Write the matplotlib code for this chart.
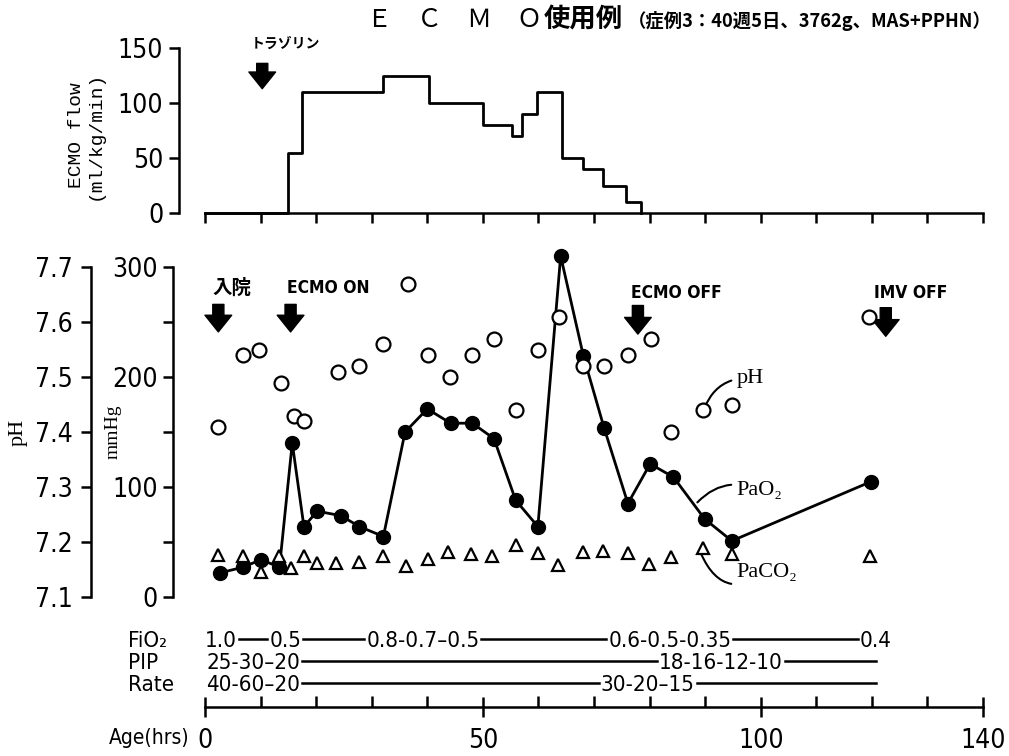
import matplotlib.pyplot as plt
from matplotlib import font_manager as fm
from matplotlib.ticker import MultipleLocator

# ecmo flow (step changes), hours / ml/kg/min
flow_hours = [0, 14.9, 17.5, 32.0, 40.3, 50.0, 55.3, 57.0, 59.8, 64.3, 68.1, 71.6, 75.8, 78.5]
flow = [0, 55, 110, 125, 100, 80, 70, 90, 110, 50, 40, 25, 10, 0]

# pH (open circles)
ph_hours = [2.4, 6.9, 9.8, 13.7, 16.0, 17.8, 23.9, 27.8, 32.1, 36.5, 40.2, 44.0, 48.1,
            52.0, 55.9, 59.9, 63.7, 68.1, 71.8, 76.1, 80.2, 83.9, 89.7, 94.9, 119.5]
ph = [7.41, 7.54, 7.55, 7.49, 7.43, 7.42, 7.51, 7.52, 7.56, 7.67, 7.54, 7.50, 7.54,
      7.57, 7.44, 7.55, 7.61, 7.52, 7.52, 7.54, 7.57, 7.40, 7.44, 7.45, 7.61]

# PaO2 (filled circles + line)
pao2_hours = [2.7, 6.8, 10.1, 13.4, 15.7, 17.8, 20.2, 24.4, 27.8, 32.1, 36.0, 40.0, 44.2,
              48.1, 52.0, 55.9, 59.9, 64.0, 68.1, 71.8, 76.1, 80.1, 84.3, 89.9, 94.8, 119.9]
pao2 = [22, 27, 34, 27, 140, 64, 78, 74, 64, 55, 150, 171, 158,
        158, 144, 88, 64, 310, 219, 154, 85, 121, 109, 71, 51, 105]

# PaCO2 (open triangles)
paco2_hours = [2.4, 6.9, 10.1, 13.3, 15.5, 17.8, 20.1, 23.5, 27.7, 32.1, 36.2, 40.1, 43.8,
               47.9, 51.7, 55.9, 59.9, 63.5, 68.0, 71.7, 76.1, 79.9, 83.9, 89.7, 94.8, 119.6]
paco2 = [38, 37, 23, 37, 26, 37, 31, 31, 32, 37, 28, 35, 41,
         39, 37, 47, 40, 29, 41, 42, 40, 30, 36, 45, 39, 37]

# ventilator settings rows: (start hour, text)
fio2_row = [(0, '1.0'), (11.6, '0.5'), (29.0, '0.8-0.7–0.5'), (72.6, '0.6-0.5-0.35'), (117.8, '0.4')]
pip_row = [(0.2, '25-30–20'), (81.7, '18-16-12-10')]
rate_row = [(0.2, '40-60–20'), (71.2, '30-20–15')]
row_end = 120.8

# fonts: look for a condensed sans face for the narrow figures of the original
entries = fm.fontManager.ttflist
cond_fams = {f.name for f in entries if 'condensed' in str(f.stretch) or 'Narrow' in f.name}
narrow = None
for cand in ['Liberation Sans Narrow', 'DejaVu Sans', 'Noto Sans', 'Open Sans', 'Roboto']:
    if cand in cond_fams:
        narrow = cand
        break
if narrow:
    NF = [narrow, 'DejaVu Sans']
    plt.rcParams['font.stretch'] = 'condensed'
    k = 1.0
else:
    NF = ['DejaVu Sans']
    k = 0.85
CJK = ['Noto Sans CJK JP', 'DejaVu Sans']
SERIF = ['Liberation Serif', 'DejaVu Serif']
MONO = ['Liberation Mono', 'DejaVu Sans Mono']

plt.rcParams['font.family'] = NF
plt.rcParams['axes.linewidth'] = 1.8

W, H = 1009, 756
def box(l, t, r, b):
    return [l / W, 1 - b / H, (r - l) / W, (b - t) / H]

fig = plt.figure(figsize=(W / 100, H / 100), dpi=100)

def down_arrow(a, x, y0, y1):
    a.annotate('', xy=(x, y1), xytext=(x, y0), annotation_clip=False,
               arrowprops=dict(arrowstyle='simple,head_length=0.75,head_width=1.2,tail_width=0.5',
                               fc='black', ec='black', mutation_scale=16, shrinkA=0, shrinkB=0))

#flow panel
axf = fig.add_axes(box(205, 48, 983, 213))
axf.step(flow_hours, flow, where='post', color='black', lw=2, clip_on=False)
axf.set_xlim(0, 140)
axf.set_ylim(0, 150)
for s in ['top', 'right']:
    axf.spines[s].set_visible(False)
axf.spines['left'].set_position(('outward', 19))
axf.set_yticks([0, 50, 100, 150])
axf.xaxis.set_major_locator(MultipleLocator(10))
axf.tick_params(axis='x', direction='out', length=7, width=1.8, labelbottom=False)
axf.tick_params(axis='y', direction='out', length=7, width=1.8, labelsize=19 * k, pad=4)
axf.text(8.2, 154, 'トラゾリン', family=CJK, fontsize=10, fontweight='bold', ha='left', va='center')
down_arrow(axf, 10.3, 136, 113)

#main panel
ax = fig.add_axes(box(205, 267, 983, 707))
ax.set_xlim(0, 140)
ax.set_ylim(-100, 300)
for s in ['top', 'right']:
    ax.spines[s].set_visible(False)
ax.spines['left'].set_position(('outward', 23))
ax.spines['left'].set_bounds(0, 300)
ax.set_yticks(range(0, 301, 50))
ax.set_yticklabels(['0', '', '100', '', '200', '', '300'])
ax.set_xticks([0, 50, 100, 140])
ax.xaxis.set_minor_locator(MultipleLocator(10))
ax.tick_params(axis='y', direction='out', length=7, width=1.8, labelsize=19 * k, pad=4)
ax.tick_params(axis='x', which='major', direction='inout', length=14, width=1.8, labelsize=19 * k, pad=8)
ax.tick_params(axis='x', which='minor', direction='in', length=8, width=1.8)

axp = ax.twinx()
axp.set_ylim(6.9, 7.7)
for s in ['top', 'right', 'bottom']:
    axp.spines[s].set_visible(False)
axp.spines['left'].set_visible(True)
axp.spines['left'].set_position(('outward', 82))
axp.spines['left'].set_bounds(7.1, 7.7)
axp.yaxis.tick_left()
axp.set_yticks([7.1, 7.2, 7.3, 7.4, 7.5, 7.6, 7.7])
axp.set_yticklabels(['7.1', '7.2', '7.3', '7.4', '7.5', '7.6', '7.7'])
axp.tick_params(axis='y', direction='out', length=7, width=1.8, labelsize=19 * k, pad=6)

ax.plot(pao2_hours, pao2, '-o', color='black', lw=2, ms=10, clip_on=False, zorder=3)
ax.plot(paco2_hours, paco2, '^', ls='', mfc='white', mec='black', ms=8, mew=1.6, zorder=3)
axp.plot(ph_hours, ph, 'o', ls='', mfc='white', mec='black', ms=10, mew=1.6, zorder=4)

#event labels
ax.text(1.4, 281, '入院', family=CJK, fontsize=14, fontweight='bold', ha='left', va='center')
ax.text(14.8, 281, 'ECMO ON', fontsize=12.5 * k, fontweight='bold', ha='left', va='center')
ax.text(76.6, 276, 'ECMO OFF', fontsize=12.5 * k, fontweight='bold', ha='left', va='center')
ax.text(120.4, 276, 'IMV OFF', fontsize=12.5 * k, fontweight='bold', ha='left', va='center')
down_arrow(ax, 2.4, 266, 241)
down_arrow(ax, 15.4, 266, 241)
down_arrow(ax, 77.9, 265, 239)
down_arrow(ax, 122.5, 263, 237)

#series labels with leaders
lead = dict(arrowstyle='-', color='black', lw=1.5, shrinkA=2, shrinkB=0)
ax.annotate('pH', xy=(89.9, 172), xytext=(95.7, 199), family=SERIF, fontsize=16, va='center',
            arrowprops=dict(connectionstyle='arc3,rad=0.35', **lead))
ax.annotate('PaO₂', xy=(88.6, 86), xytext=(95.7, 97), family=SERIF, fontsize=16, va='center',
            arrowprops=dict(connectionstyle='arc3,rad=0.35', **lead))
ax.annotate('PaCO₂', xy=(89.3, 39), xytext=(95.7, 22), family=SERIF, fontsize=16, va='center',
            arrowprops=dict(connectionstyle='arc3,rad=-0.6', **lead))

#ventilator rows
rows = []
for lab, items, y, has_end in [('FiO₂', fio2_row, -40, False),
                               ('PIP', pip_row, -60, True),
                               ('Rate', rate_row, -80, True)]:
    ax.text(-13.8, y, lab, fontsize=16 * k, ha='left', va='center')
    texts = [ax.text(h, y, s, fontsize=16 * k, ha='left', va='center') for h, s in items]
    rows.append((texts, y, has_end))
ax.text(-2.8, -128, 'Age(hrs)', fontsize=15 * k, ha='right', va='center')

fig.canvas.draw()
inv = ax.transData.inverted()
for texts, y, has_end in rows:
    for t0, t1 in zip(texts, texts[1:]):
        x0 = inv.transform((t0.get_window_extent().x1 + 2, 0))[0]
        x1 = inv.transform((t1.get_window_extent().x0 - 2, 0))[0]
        ax.plot([x0, x1], [y + 2, y + 2], color='black', lw=1.8, clip_on=False)
    if has_end:
        x0 = inv.transform((texts[-1].get_window_extent().x1 + 2, 0))[0]
        ax.plot([x0, row_end], [y + 2, y + 2], color='black', lw=1.8, clip_on=False)

#axis titles
fig.text(18 / W, 1 - 432 / H, 'pH', rotation=90, family=SERIF, fontsize=16, ha='center', va='center')
fig.text(113 / W, 1 - 432 / H, 'mmHg', rotation=90, family=SERIF, fontsize=14, ha='center', va='center')
fig.text(86 / W, 1 - 135 / H, 'ECMO flow\n(ml/kg/min)', rotation=90, family=MONO, fontsize=14,
         ha='center', va='center', linespacing=1.1)

#title
fig.text(367 / W, 1 - 20 / H, 'Ｅ\u3000Ｃ\u3000Ｍ\u3000Ｏ', family=CJK, fontsize=18, va='center')
fig.text(544 / W, 1 - 20 / H, '使用例', family=CJK, fontsize=19, fontweight='bold', va='center')
fig.text(628 / W, 1 - 21 / H, '（症例3：40週5日、3762g、MAS+PPHN）', family=CJK, fontsize=13.2,
         fontweight='bold', va='center')

fig.savefig('out.png', dpi=100)
